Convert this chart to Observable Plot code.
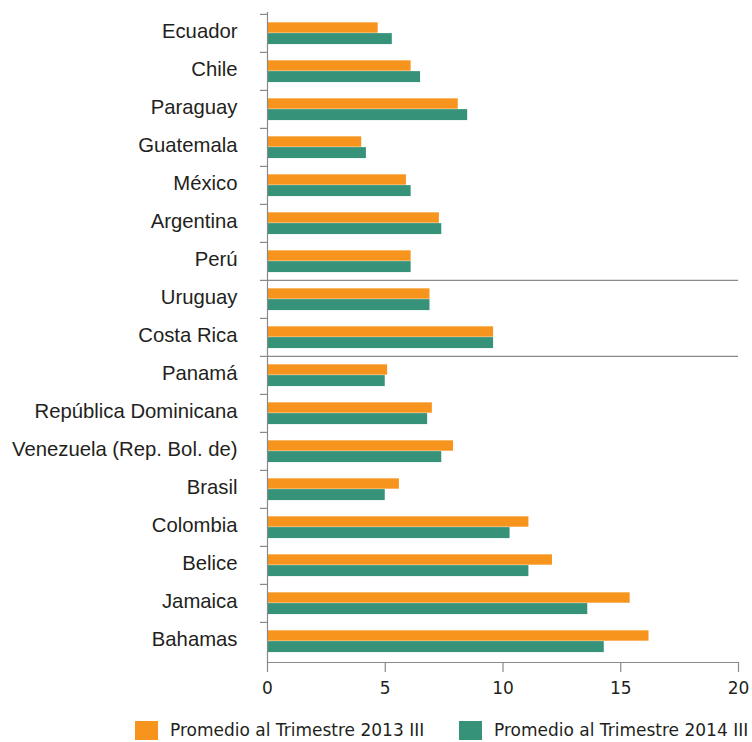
<!DOCTYPE html>
<html>
<head>
<meta charset="utf-8">
<script src="https://cdn.jsdelivr.net/npm/d3@7"></script>
<script src="https://cdn.jsdelivr.net/npm/@observablehq/plot@0.6"></script>
<style>
  body { margin: 0; background: #fff; }
  #chart { position: relative; width: 752px; }
  .legend { position: relative; height: 30px; font-family: "DejaVu Sans", sans-serif; font-size: 17px; color: #231f20; }
  .item { position: absolute; top: 8px; display: flex; align-items: center; }
  .sw { width: 23px; height: 19px; margin-right: 12px; }
</style>
</head>
<body>
<div id="chart"></div>
<script>
const countries = ["Ecuador","Chile","Paraguay","Guatemala","México","Argentina","Perú","Uruguay","Costa Rica","Panamá","República Dominicana","Venezuela (Rep. Bol. de)","Brasil","Colombia","Belice","Jamaica","Bahamas"];
const series = ["Promedio al Trimestre 2013 III","Promedio al Trimestre 2014 III"];
const v2013 = [4.7,6.1,8.1,4.0,5.9,7.3,6.1,6.9,9.6,5.1,7.0,7.9,5.6,11.1,12.1,15.4,16.2];
const v2014 = [5.3,6.5,8.5,4.2,6.1,7.4,6.1,6.9,9.6,5.0,6.8,7.4,5.0,10.3,11.1,13.6,14.3];
const xTicks = [0,5,10,15,20];
const separatorsBefore = ["Uruguay","Panamá"];
const colors = ["#f7941d","#36937a"];

const rows = [];
countries.forEach((c,i) => {
  rows.push({country: c, series: series[0], value: v2013[i]});
  rows.push({country: c, series: series[1], value: v2014[i]});
});

const W = 752, H = 712, mT = 12, mB = 50;
const step = (H - mT - mB) / countries.length;
const grey = "#8a8a8a";

const chart = Plot.plot({
  width: W, height: H,
  marginLeft: 267, marginRight: 14, marginTop: mT, marginBottom: mB,
  style: {color: "#231f20", background: "#fff"},
  x: {domain: [0, 20], axis: null},
  y: {domain: countries, padding: 0, axis: null},
  marks: [
    Plot.barX(rows.filter(d => d.series === series[0]), {
      x: "value", y: "country", fill: colors[0],
      insetTop: step * 0.218, insetBottom: step * 0.505
    }),
    Plot.barX(rows.filter(d => d.series === series[1]), {
      x: "value", y: "country", fill: colors[1],
      insetTop: step * 0.50, insetBottom: step * 0.207
    }),
    Plot.ruleY(separatorsBefore, {y: d => d, dy: -step / 2, stroke: grey, strokeWidth: 1.2}),
    Plot.axisY({label: null, tickSize: 0, tickPadding: 30, dy: -2, fontSize: 20.3, fontFamily: "Liberation Sans, Arial, sans-serif", fill: "#231f20"}),
    Plot.axisY({label: null, tickSize: 7, tickFormat: () => "", dy: -step / 2, stroke: grey, strokeWidth: 1.2}),
    Plot.axisX({label: null, ticks: xTicks, tickSize: 10, tickPadding: 9, fontSize: 17, fontFamily: "DejaVu Sans, sans-serif", stroke: grey, strokeWidth: 1.2, fill: "#231f20"}),
    Plot.frame({anchor: "left", stroke: grey, strokeWidth: 1.2}),
    Plot.frame({anchor: "bottom", stroke: grey, strokeWidth: 1.2})
  ]
});

const root = document.getElementById("chart");
root.appendChild(chart);
const legend = document.createElement("div");
legend.className = "legend";
const lefts = [135, 459];
series.forEach((s, i) => {
  const it = document.createElement("div");
  it.className = "item";
  it.style.left = lefts[i] + "px";
  const sw = document.createElement("span");
  sw.className = "sw";
  sw.style.background = colors[i];
  const tx = document.createElement("span");
  tx.textContent = s;
  it.appendChild(sw); it.appendChild(tx);
  legend.appendChild(it);
});
root.appendChild(legend);
</script>
</body>
</html>
